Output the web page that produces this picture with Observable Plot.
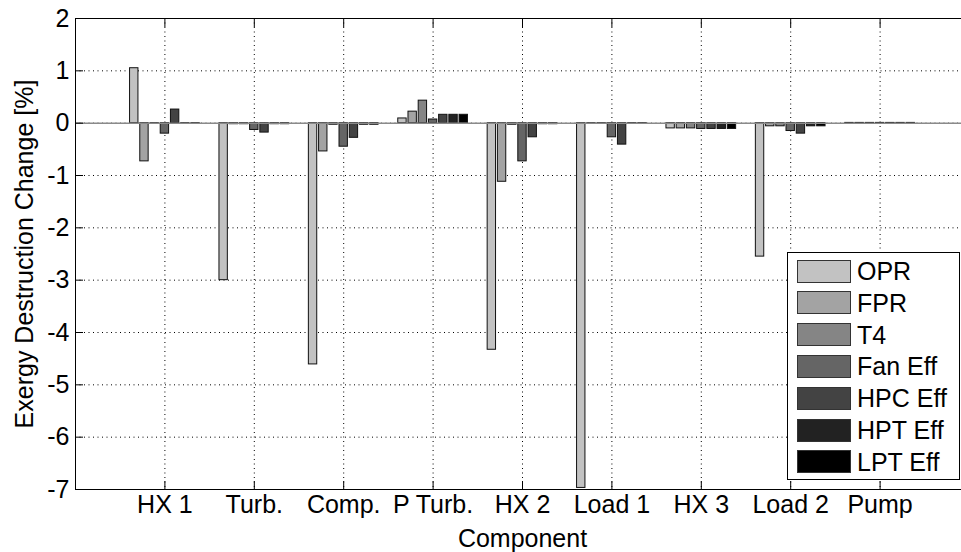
<!DOCTYPE html>
<html>
<head>
<meta charset="utf-8">
<script src="https://cdn.jsdelivr.net/npm/d3@7"></script>
<script src="https://cdn.jsdelivr.net/npm/@observablehq/plot@0.6"></script>
<style>
  html, body { margin: 0; padding: 0; background: #fff; }
  #wrap { position: relative; width: 961px; height: 552px; overflow: hidden; font-family: "Liberation Sans", Arial, sans-serif; }
  #legend { position: absolute; left: 787px; top: 252px; width: 173px; height: 228px; background: #fff; border: 1px solid #000; box-sizing: border-box; }
  .row { position: absolute; left: 9px; height: 24px; display: flex; align-items: center; }
  .sw { width: 54px; height: 23px; border: 1px solid #333; box-sizing: border-box; flex: none; }
  .lb { margin-left: 6px; font-size: 25px; color: #000; line-height: 24px; white-space: nowrap; }
</style>
</head>
<body>
<div id="wrap"></div>
<script>
const components = ["HX 1", "Turb.", "Comp.", "P Turb.", "HX 2", "Load 1", "HX 3", "Load 2", "Pump"];
const series = ["OPR", "FPR", "T4", "Fan Eff", "HPC Eff", "HPT Eff", "LPT Eff"];
const colors = ["#c2c2c2", "#a3a3a3", "#858585", "#656565", "#434343", "#222222", "#000000"];
const yTicks = [-7, -6, -5, -4, -3, -2, -1, 0, 1, 2];

const opr    = [1.05, -3.00, -4.61, 0.09, -4.33, -6.97, -0.10, -2.55, 0.005];
const fpr    = [-0.73, -0.02, -0.54, 0.22, -1.12, -0.01, -0.10, -0.06, 0.005];
const t4     = [-0.01, -0.02, -0.03, 0.43, -0.03, -0.01, -0.10, -0.06, 0.005];
const fanEff = [-0.20, -0.13, -0.45, 0.07, -0.73, -0.27, -0.11, -0.15, 0.005];
const hpcEff = [0.26, -0.18, -0.28, 0.16, -0.27, -0.41, -0.11, -0.20, 0.005];
const hptEff = [-0.01, -0.02, -0.03, 0.16, -0.02, -0.01, -0.11, -0.06, 0.005];
const lptEff = [-0.01, -0.02, -0.03, 0.16, -0.02, -0.01, -0.11, -0.06, 0.005];

const valuesBySeries = [opr, fpr, t4, fanEff, hpcEff, hptEff, lptEff];

// grouped layout in category units (MATLAB style: group width 0.8)
const groupWidth = 0.8;
const slot = groupWidth / series.length;
const barW = slot * 0.82;

const data = [];
components.forEach((c, i) => {
  series.forEach((s, j) => {
    const center = (i + 1) - groupWidth / 2 + slot * (j + 0.5);
    data.push({comp: c, series: s, j, value: valuesBySeries[j][i],
               x1: center - barW / 2, x2: center + barW / 2});
  });
});

const xTicks = components.map((c, i) => i + 1);
const font = "'Liberation Sans', Arial, sans-serif";

const chart = Plot.plot({
  width: 961,
  height: 552,
  marginLeft: 75,
  marginTop: 18,
  marginBottom: 63,
  marginRight: -8,
  style: {fontFamily: font, fontSize: "25px", color: "#000", background: "#fff", overflow: "visible"},
  x: {domain: [0, 10], range: [75, 969]},
  y: {domain: [-7, 2]},
  marks: [
    Plot.gridX(xTicks, {stroke: "#000", strokeOpacity: 1, strokeDasharray: "1,3.5", strokeWidth: 1}),
    Plot.gridY(yTicks, {stroke: "#000", strokeOpacity: 1, strokeDasharray: "1,3.5", strokeWidth: 1}),
    Plot.rect(data, {x1: "x1", x2: "x2", y1: () => 0, y2: "value",
                     fill: d => colors[d.j], stroke: "#111", strokeWidth: 1}),
    Plot.ruleY([0], {stroke: "#8a8a8a", strokeWidth: 1.5}),
    Plot.frame({stroke: "#000", strokeWidth: 1}),
    // inward ticks
    Plot.axisX(xTicks, {anchor: "bottom", tickSize: -8, tickFormat: () => "", label: null, stroke: "#000"}),
    Plot.axisX(xTicks, {anchor: "top", tickSize: -8, tickFormat: () => "", label: null, stroke: "#000"}),
    Plot.axisY(yTicks, {anchor: "left", tickSize: -8, tickFormat: () => "", label: null, stroke: "#000"}),
    // labels
    Plot.axisX(xTicks, {anchor: "bottom", tickSize: 0, tickPadding: 6, tickFormat: d => components[d - 1], label: null, fill: "#000", fontSize: 25}),
    Plot.axisY(yTicks, {anchor: "left", tickSize: 0, tickPadding: 6, tickFormat: d => String(d).replace("\u2212", "-"), label: null, fill: "#000", fontSize: 25}),
    Plot.text(["Component"], {frameAnchor: "bottom", dy: 49, fill: "#000", fontSize: 25, lineAnchor: "middle", textAnchor: "middle"}),
    Plot.text(["Exergy Destruction Change [%]"], {frameAnchor: "left", dx: -51, rotate: -90, fill: "#000", fontSize: 25, lineAnchor: "middle", textAnchor: "middle"})
  ]
});

const wrap = document.getElementById("wrap");
wrap.appendChild(chart);

const legend = document.createElement("div");
legend.id = "legend";
series.forEach((s, j) => {
  const row = document.createElement("div");
  row.className = "row";
  row.style.top = (6 + j * 31.8) + "px";
  const sw = document.createElement("div");
  sw.className = "sw";
  sw.style.background = colors[j];
  const lb = document.createElement("span");
  lb.className = "lb";
  lb.textContent = s;
  row.appendChild(sw);
  row.appendChild(lb);
  legend.appendChild(row);
});
wrap.appendChild(legend);
</script>
</body>
</html>
